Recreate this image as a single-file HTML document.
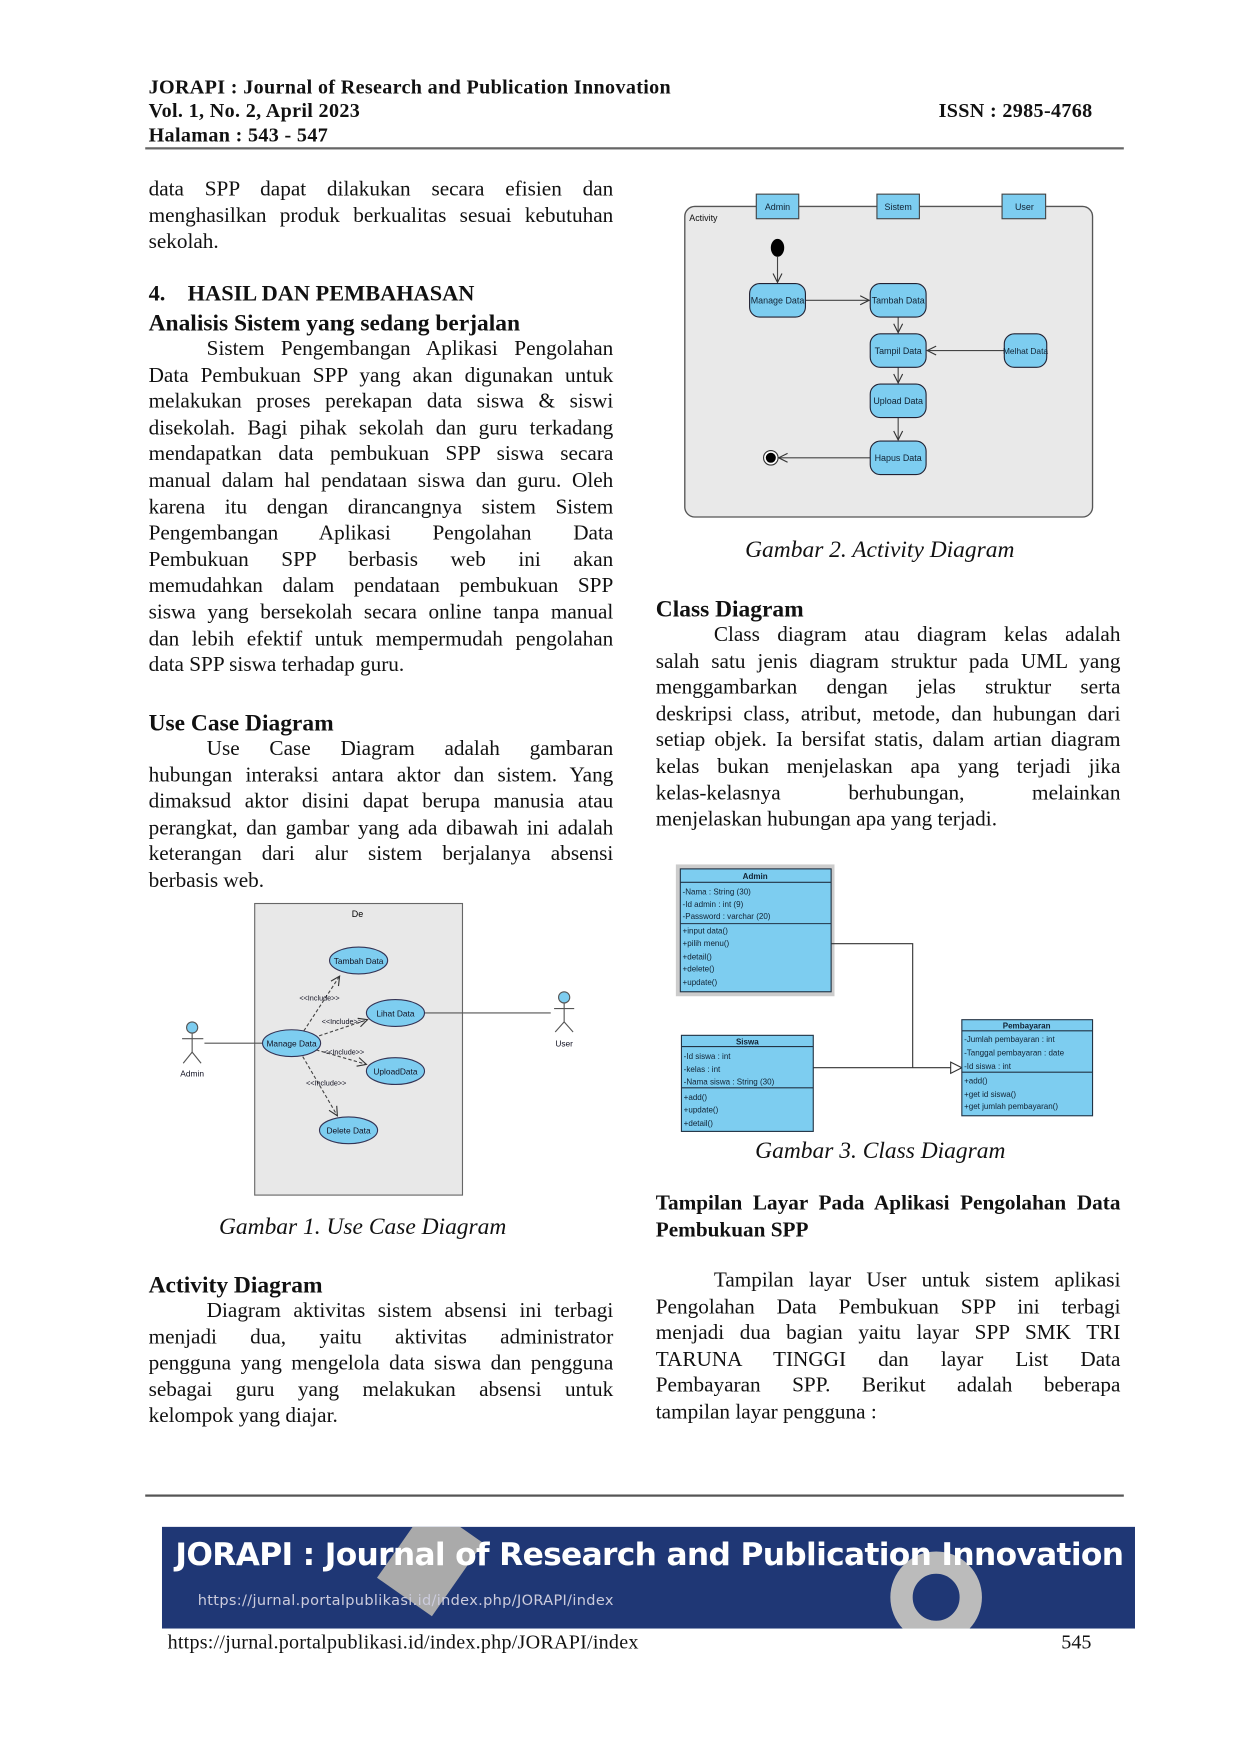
<!DOCTYPE html>
<html><head><meta charset="utf-8"><style>
html,body{margin:0;padding:0;background:#fff;width:1240px;height:1754px;overflow:hidden}
#w{position:absolute;left:0;top:2px;width:1110px;height:1570px;transform:scale(1.11712);transform-origin:0 0;font-family:"Liberation Serif",serif;color:#111}
.a{position:absolute;white-space:nowrap}
.h{font-weight:bold;font-size:18px;line-height:21px;letter-spacing:0.3px}
.p{position:absolute;width:416px;font-size:19px;line-height:23.6px}
.p div{text-align:justify;text-align-last:justify;white-space:nowrap;height:23.6px}
.p div.e{text-align-last:left}
.p div.i{padding-left:52px}
.b{font-weight:bold;font-size:21px}
.cap{font-style:italic;font-size:21px}
</style></head><body><div id="w">
<div class="a h" style="left:133px;top:66px">JORAPI : Journal of Research and Publication Innovation</div>
<div class="a h" style="left:133px;top:87px">Vol. 1, No. 2, April 2023</div>
<div class="a h" style="left:133px;top:109px">Halaman : 543 - 547</div>
<div class="a h" style="right:132px;top:87px">ISSN : 2985-4768</div>
<div class="a" style="left:130px;top:130px;width:876px;height:2px;background:#666"></div>

<div class="p" style="left:133px;top:156px">
<div>data SPP dapat dilakukan secara efisien dan</div>
<div>menghasilkan produk berkualitas sesuai kebutuhan</div>
<div class="e">sekolah.</div></div>
<div class="a b" style="left:133px;top:250px;font-size:20px">4.&nbsp;&nbsp;&nbsp;&nbsp;HASIL DAN PEMBAHASAN</div>
<div class="a b" style="left:133px;top:275px">Analisis Sistem yang sedang berjalan</div>
<div class="p" style="left:133px;top:299px">
<div class="i">Sistem Pengembangan Aplikasi Pengolahan</div>
<div>Data Pembukuan SPP yang akan digunakan untuk</div>
<div>melakukan proses perekapan data siswa &amp; siswi</div>
<div>disekolah. Bagi pihak sekolah dan guru terkadang</div>
<div>mendapatkan data pembukuan SPP siswa secara</div>
<div>manual dalam hal pendataan siswa dan guru. Oleh</div>
<div>karena itu dengan dirancangnya sistem Sistem</div>
<div>Pengembangan Aplikasi Pengolahan Data</div>
<div>Pembukuan SPP berbasis web ini akan</div>
<div>memudahkan dalam pendataan pembukuan SPP</div>
<div>siswa yang bersekolah secara online tanpa manual</div>
<div>dan lebih efektif untuk mempermudah pengolahan</div>
<div class="e">data SPP siswa terhadap guru.</div></div>
<div class="a b" style="left:133px;top:633px">Use Case Diagram</div>
<div class="p" style="left:133px;top:657px">
<div class="i">Use Case Diagram adalah gambaran</div>
<div>hubungan interaksi antara aktor dan sistem. Yang</div>
<div>dimaksud aktor disini dapat berupa manusia atau</div>
<div>perangkat, dan gambar yang ada dibawah ini adalah</div>
<div>keterangan dari alur sistem berjalanya absensi</div>
<div class="e">berbasis web.</div></div>
<div class="a cap" style="left:196px;top:1084px">Gambar 1. Use Case Diagram</div>
<div class="a b" style="left:133px;top:1136px">Activity Diagram</div>
<div class="p" style="left:133px;top:1160px">
<div class="i">Diagram aktivitas sistem absensi ini terbagi</div>
<div>menjadi dua, yaitu aktivitas administrator</div>
<div>pengguna yang mengelola data siswa dan pengguna</div>
<div>sebagai guru yang melakukan absensi untuk</div>
<div class="e">kelompok yang diajar.</div></div>

<div class="a cap" style="left:667px;top:478px">Gambar 2. Activity Diagram</div>
<div class="a b" style="left:587px;top:531px">Class Diagram</div>
<div class="p" style="left:587px;top:555px">
<div class="i">Class diagram atau diagram kelas adalah</div>
<div>salah satu jenis diagram struktur pada UML yang</div>
<div>menggambarkan dengan jelas struktur serta</div>
<div>deskripsi class, atribut, metode, dan hubungan dari</div>
<div>setiap objek. Ia bersifat statis, dalam artian diagram</div>
<div>kelas bukan menjelaskan apa yang terjadi jika</div>
<div>kelas-kelasnya berhubungan, melainkan</div>
<div class="e">menjelaskan hubungan apa yang terjadi.</div></div>
<div class="a cap" style="left:676px;top:1016px">Gambar 3. Class Diagram</div>
<div class="p" style="left:587px;top:1064px;font-weight:bold;font-size:19px">
<div>Tampilan Layar Pada Aplikasi Pengolahan Data</div>
<div class="e">Pembukuan SPP</div></div>
<div class="p" style="left:587px;top:1133px">
<div class="i">Tampilan layar User untuk sistem aplikasi</div>
<div>Pengolahan Data Pembukuan SPP ini terbagi</div>
<div>menjadi dua bagian yaitu layar SPP SMK TRI</div>
<div>TARUNA TINGGI dan layar List Data</div>
<div>Pembayaran SPP. Berikut adalah beberapa</div>
<div class="e">tampilan layar pengguna :</div></div>

<div class="a" style="left:130px;top:1336px;width:876px;height:2px;background:#555"></div>
<div class="a" style="left:145px;top:1365px;width:871px;height:91px;background:#1f3775;overflow:hidden">
<div class="a" style="left:210px;top:-10px;width:60px;height:80px;background:#aaa;transform:rotate(35deg)"></div>
<div class="a" style="left:652px;top:22px;width:42px;height:42px;border:20px solid #bbb;border-radius:50%"></div>
<div class="a" style="left:12px;top:8px;font-family:'DejaVu Sans',sans-serif;font-weight:bold;font-size:28px;color:#fff;letter-spacing:-0.6px">JORAPI : Journal of Research and Publication Innovation</div>
<div class="a" style="left:32px;top:59px;font-family:'DejaVu Sans',sans-serif;font-size:13px;color:#ccd;letter-spacing:0.3px">https://jurnal.portalpublikasi.id/index.php/JORAPI/index</div>
</div>
<div class="a" style="left:150px;top:1458px;font-size:18px;letter-spacing:0.2px">https://jurnal.portalpublikasi.id/index.php/JORAPI/index</div>
<div class="a" style="left:950px;top:1458px;font-size:18px">545</div>

<svg class="a" style="left:0;top:0" width="1110" height="1570" font-family="Liberation Sans, sans-serif">
<defs>
<marker id="oa" markerWidth="10" markerHeight="10" refX="9" refY="5" orient="auto" markerUnits="userSpaceOnUse"><path d="M1,1 L9,5 L1,9" fill="none" stroke="#333" stroke-width="1"/></marker>
</defs>
<rect x="228" y="807" width="186" height="261" fill="#e8e8e8" stroke="#666"/>
<text x="320" y="819" font-size="8" text-anchor="middle">De</text>
<g stroke="#555" fill="none">
<circle cx="172" cy="918" r="5" fill="#7dcdf0"/><line x1="172" y1="923" x2="172" y2="940"/><line x1="163" y1="928" x2="182" y2="928"/><line x1="172" y1="940" x2="164" y2="950"/><line x1="172" y1="940" x2="180" y2="950"/>
<circle cx="505" cy="891" r="5" fill="#7dcdf0"/><line x1="505" y1="896" x2="505" y2="913"/><line x1="496" y1="901" x2="514" y2="901"/><line x1="505" y1="913" x2="497" y2="922"/><line x1="505" y1="913" x2="513" y2="922"/>
<line x1="183" y1="932" x2="236" y2="932"/><line x1="380" y1="905" x2="493" y2="905"/>
<g stroke-dasharray="3,2" marker-end="url(#oa)" stroke="#444">
<line x1="272" y1="921" x2="304" y2="872"/><line x1="281" y1="927" x2="329" y2="911"/><line x1="283" y1="938" x2="328" y2="951"/><line x1="271" y1="944" x2="302" y2="997"/></g>
</g>
<g fill="#7dcdf0" stroke="#335">
<ellipse cx="321" cy="858" rx="26" ry="12"/><ellipse cx="354" cy="905" rx="26" ry="12"/><ellipse cx="261" cy="932" rx="26" ry="12"/><ellipse cx="354" cy="957" rx="26" ry="12"/><ellipse cx="312" cy="1010" rx="26" ry="12"/></g>
<g font-size="7.5" text-anchor="middle" fill="#112">
<text x="321" y="861">Tambah Data</text><text x="354" y="908">Lihat Data</text><text x="261" y="935">Manage Data</text><text x="354" y="960">UploadData</text><text x="312" y="1013">Delete Data</text>
<text x="172" y="962">Admin</text><text x="505" y="935">User</text>
<g font-size="6.5"><text x="286" y="894">&lt;&lt;Include&gt;&gt;</text><text x="306" y="915">&lt;&lt;Include&gt;&gt;</text><text x="308" y="942">&lt;&lt;Include&gt;&gt;</text><text x="292" y="970">&lt;&lt;Include&gt;&gt;</text></g>
</g>
<rect x="613" y="183" width="365" height="278" rx="9" fill="#e9e9e9" stroke="#555" stroke-width="1.2"/>
<g fill="#7dcdf0" stroke="#444"><rect x="677" y="172" width="38" height="22"/><rect x="785" y="172" width="38" height="22"/><rect x="897" y="172" width="39" height="22"/></g>
<g font-size="8" text-anchor="middle" fill="#123"><text x="696" y="186">Admin</text><text x="804" y="186">Sistem</text><text x="917" y="186">User</text></g>
<text x="617" y="196" font-size="8" fill="#111">Activity</text>
<ellipse cx="696" cy="220" rx="6" ry="8" fill="#000"/>
<g stroke="#444" fill="none" marker-end="url(#oa)">
<line x1="696" y1="228" x2="696" y2="251"/><line x1="721" y1="267" x2="778" y2="267"/><line x1="804" y1="282" x2="804" y2="296"/><line x1="899" y1="312" x2="830" y2="312"/><line x1="804" y1="327" x2="804" y2="341"/><line x1="804" y1="372" x2="804" y2="392"/><line x1="779" y1="408" x2="697" y2="408"/></g>
<circle cx="690" cy="408" r="6.5" fill="#fff" stroke="#333"/><circle cx="690" cy="408" r="4.5" fill="#000"/>
<g fill="#7dcdf0" stroke="#223"><rect x="671" y="252" width="50" height="30" rx="9"/><rect x="779" y="252" width="50" height="30" rx="9"/><rect x="779" y="297" width="50" height="30" rx="9"/><rect x="899" y="297" width="38" height="30" rx="9"/><rect x="779" y="342" width="50" height="30" rx="9"/><rect x="779" y="393" width="50" height="30" rx="9"/></g>
<g font-size="8" text-anchor="middle" fill="#123"><text x="696" y="270">Manage Data</text><text x="804" y="270">Tambah Data</text><text x="804" y="315">Tampil Data</text><text x="918" y="315" font-size="7.5">Melhat Data</text><text x="804" y="360">Upload Data</text><text x="804" y="411">Hapus Data</text></g>
<rect x="605" y="772" width="142" height="118" fill="#ccc"/>
<g stroke="#333" fill="none"><polyline points="744,843 817,843 817,954"/><line x1="728" y1="954" x2="851" y2="954"/><path d="M851,949 L861,954 L851,959 Z" fill="#fff"/></g>
<g fill="#7dcdf0" stroke="#234"><rect x="609" y="776" width="135" height="110"/><rect x="610" y="925" width="118" height="86"/><rect x="861" y="911" width="117" height="86"/></g>
<g stroke="#234"><line x1="609" y1="788" x2="744" y2="788"/><line x1="609" y1="825" x2="744" y2="825"/><line x1="610" y1="935" x2="728" y2="935"/><line x1="610" y1="972" x2="728" y2="972"/><line x1="861" y1="921" x2="978" y2="921"/><line x1="861" y1="958" x2="978" y2="958"/></g>
<g font-size="7.2" fill="#123">
<text x="676" y="785" text-anchor="middle" font-weight="bold">Admin</text>
<text x="611" y="799">-Nama : String (30)</text><text x="611" y="810">-Id admin : int (9)</text><text x="611" y="821">-Password : varchar (20)</text>
<text x="611" y="834">+input data()</text><text x="611" y="845">+pilih menu()</text><text x="611" y="857">+detail()</text><text x="611" y="868">+delete()</text><text x="611" y="880">+update()</text>
<text x="669" y="933" text-anchor="middle" font-weight="bold">Siswa</text>
<text x="612" y="946">-Id siswa : int</text><text x="612" y="958">-kelas : int</text><text x="612" y="969">-Nama siswa : String (30)</text>
<text x="612" y="983">+add()</text><text x="612" y="994">+update()</text><text x="612" y="1006">+detail()</text>
<text x="919" y="919" text-anchor="middle" font-weight="bold">Pembayaran</text>
<text x="863" y="931">-Jumlah pembayaran : int</text><text x="863" y="943">-Tanggal pembayaran : date</text><text x="863" y="955">-Id siswa : int</text>
<text x="863" y="968">+add()</text><text x="863" y="980">+get id siswa()</text><text x="863" y="991">+get jumlah pembayaran()</text>
</g>
</svg>
</div></body></html>
